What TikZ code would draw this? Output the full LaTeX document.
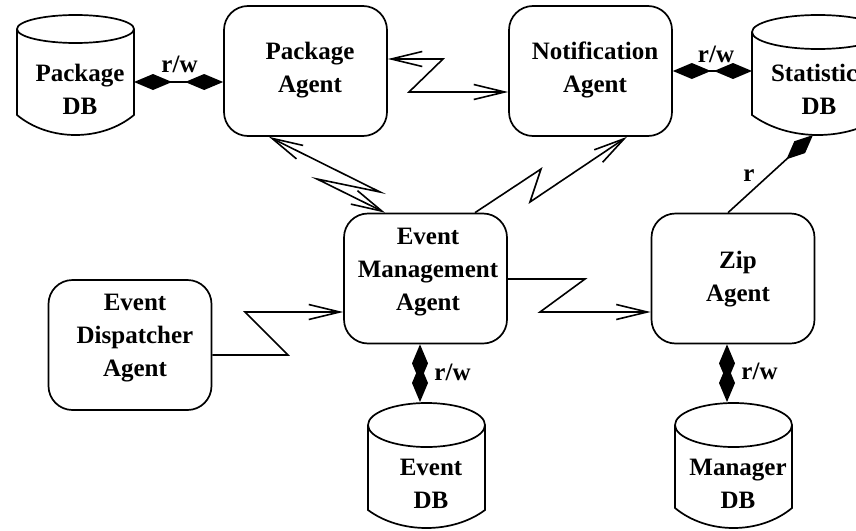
\documentclass[tikz,border=0pt]{standalone}
\usepackage{fontspec}
\setmainfont{Liberation Serif}
\usetikzlibrary{arrows.meta}
\newcommand\mycyl[6]{%
 \pgfmathsetmacro\cL{#1-#2}\pgfmathsetmacro\cR{#1+#2}%
 \pgfmathsetmacro\cC{(#6-0.25*#5)/0.75}%
 \pgfmathsetmacro\cA{#1-0.45*#2}\pgfmathsetmacro\cB{#1+0.45*#2}%
 \draw[cyl] (#1,#3) ellipse [x radius=#2, y radius=#4];
 \draw[cyl] (\cL,#3) -- (\cL,#5) .. controls (\cA,\cC) and (\cB,\cC) .. (\cR,#5) -- (\cR,#3);
}
\tikzset{
 agent/.style={draw, line width=1.7pt, rounded corners=24pt, minimum width=163pt, minimum height=130pt, inner sep=0pt},
 cylbox/.style={draw=none, inner sep=0pt, outer sep=0pt},
 cyl/.style={line width=1.7pt},
 txt/.style={font=\bfseries\fontsize{25}{33}\selectfont, align=center, inner sep=0pt},
 lbl/.style={font=\bfseries\fontsize{25}{33}\selectfont, inner sep=0pt, anchor=base},
 conn/.style={line width=1.6pt, >={Straight Barb[length=31pt,width=15pt]}},
 oneway/.style={conn, ->},
 twoway/.style={conn, <->},
 rw/.style={line width=1.6pt, arrows={Diamond[length=38pt,width=16pt]-Diamond[length=38pt,width=16pt]}},
 rdia/.style={line width=1.6pt, arrows={-Diamond[length=36pt,width=16pt]}}
}
\begin{document}
\begin{tikzpicture}[x=1pt,y=-1pt]
\clip (0,0) rectangle (856,530);
\fill[white] (0,0) rectangle (856,530);

% agents
\node[agent] (pa) at (305.5,71) {};
\node[agent] (na) at (590.5,71) {};
\node[agent] (ema) at (425.5,278.5) {};
\node[agent] (eda) at (130,345) {};
\node[agent] (za) at (733,278.5) {};

\node[txt] (pat) at (310,70) {Package\\Agent};
\node[txt] (nat) at (595,70) {Notification\\Agent};
\node[txt] (emat) at (428,272.5) {Event\\Management\\Agent};
\node[txt] (edat) at (135,338.5) {Event\\Dispatcher\\Agent};
\node[txt] (zat) at (738,279) {Zip\\Agent};

% databases
\mycyl{75.5}{58.5}{29}{14}{115}{135}
\node[cylbox, minimum width=117pt, minimum height=120pt] (pdb) at (75.5,75) {};
\node[txt] (pdbt) at (80,89) {Package\\DB};

\mycyl{818}{66}{32}{17}{115}{135}
\node[cylbox, minimum width=132pt, minimum height=120pt] (sdb) at (818,75) {};
\node[txt] (sdbt) at (819,89) {Statistics\\DB};

\mycyl{426.5}{58.5}{425}{22}{510}{528}
\node[cylbox, minimum width=117pt, minimum height=126pt] (edb) at (426.5,465) {};
\node[txt] (edbt) at (431,484) {Event\\DB};

\mycyl{733.5}{58.5}{425}{22}{508}{528}
\node[cylbox, minimum width=117pt, minimum height=126pt] (mdb) at (733.5,465) {};
\node[txt] (mdbt) at (738,484) {Manager\\DB};

% connectors
\draw[rw] (pdb.east |- 0,82) -- (pa.west |- 0,82);
\draw[rw] (na.east |- 0,71) -- (sdb.west |- 0,71);
\draw[twoway] (pa.east |- 0,59) -- (443,59) -- (409,92) -- (na.west |- 0,92);
\draw[twoway] (pa.south -| 269,0) -- (380,192) -- (317,179) -- (ema.north -| 385,0);
\draw[oneway] (ema.north -| 475,0) -- (541,169) -- (530,202) -- (na.south -| 627,0);
\draw[oneway] (eda.east |- 0,355) -- (288,355) -- (245,312) -- (ema.west |- 0,312);
\draw[oneway] (ema.east |- 0,279) -- (585,279) -- (540,312) -- (za.west |- 0,312);
\draw[rdia] (za.north -| 728,0) -- (sdb.south -| 813,0);
\draw[rw] (ema.south -| 420,0) -- (edb.north -| 420,0);
\draw[rw] (za.south -| 727,0) -- (mdb.north -| 727,0);

% labels
\node[lbl] (l1) at (179.5,72) {r/w};
\node[lbl] (l2) at (716,62) {r/w};
\node[lbl] (l3) at (452.5,380) {r/w};
\node[lbl] (l4) at (759.5,379) {r/w};
\node[lbl] (l5) at (749,181) {r};
\end{tikzpicture}
\end{document}
